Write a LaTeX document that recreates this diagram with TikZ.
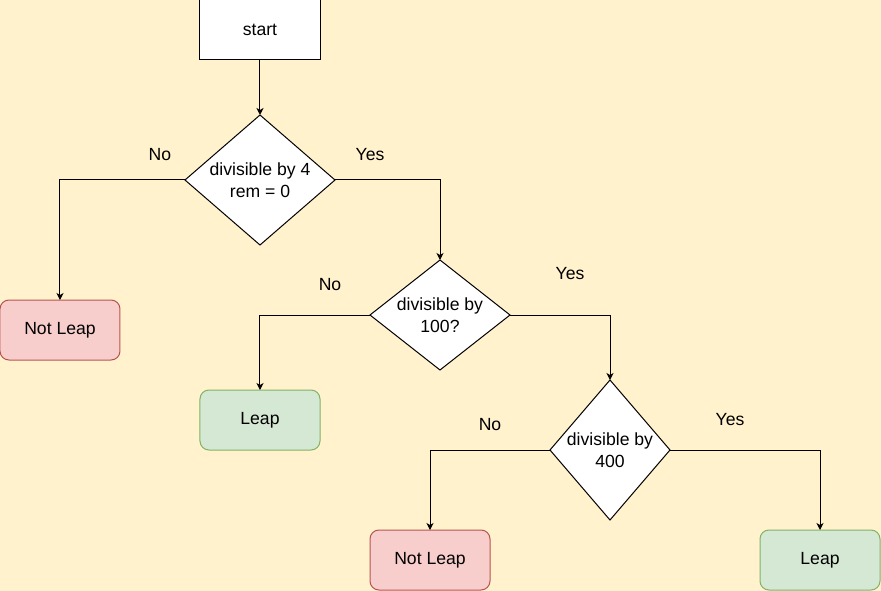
\documentclass[tikz,border=0pt]{standalone}
\usepackage{fontspec}
\setmainfont{Liberation Sans}
\usetikzlibrary{positioning}
\usetikzlibrary{shapes.geometric}
\usetikzlibrary{arrows.meta}
\definecolor{bgyellow}{HTML}{FFF2CC}
\definecolor{noleapfill}{HTML}{F8CECC}
\definecolor{noleapline}{HTML}{B85450}
\definecolor{leapfill}{HTML}{D5E8D4}
\definecolor{leapline}{HTML}{82B366}

\begin{document}
\begin{tikzpicture}[
    font=\fontsize{17.6}{22}\selectfont,
    every node/.style={outer sep=0pt},
    proc/.style={draw, fill=white, line width=1pt, minimum width=120pt, minimum height=60pt, text centered},
    check/.style={draw, fill=white, diamond, inner sep=0pt, line width=1pt, align=center},
    noleap/.style={draw=noleapline, fill=noleapfill, rounded corners=9pt, line width=1pt, minimum width=120pt, minimum height=60pt, text centered},
    leap/.style={draw=leapline, fill=leapfill, rounded corners=9pt, line width=1pt, minimum width=120pt, minimum height=60pt, text centered},
    arr/.style={-{Stealth[length=7pt,width=7pt,inset=2pt]}, line width=1pt},
    lbl/.style={text centered}
  ]
        % background %
        \fill[bgyellow] (-260pt,30pt) rectangle (621pt,-561pt);
        \useasboundingbox (-260pt,30pt) rectangle (621pt,-561pt);

        % nodes %
        \node[proc] (start) {start};
        \node[check, aspect=1.154, minimum width=150pt, minimum height=130pt, below=55pt of start] (d1) {divisible by 4\\rem = 0};
        \node[noleap, below=55pt of d1, xshift=-200pt] (nl1) {Not Leap};
        \node[check, aspect=1.27, minimum width=140pt, minimum height=110pt, below=15pt of d1, xshift=180pt] (d2) {divisible by\\100?};
        \node[leap, below=20pt of d2, xshift=-180pt] (l1) {Leap};
        \node[check, aspect=0.857, minimum width=120pt, minimum height=140pt, below=10pt of d2, xshift=170pt] (d3) {divisible by\\400};
        \node[noleap, below=10pt of d3, xshift=-180pt] (nl2) {Not Leap};
        \node[leap, below=10pt of d3, xshift=210pt] (l2) {Leap};

        % labels %
        \node[lbl] (no1) at ([shift={(-25pt,25pt)}]d1.west) {No};
        \node[lbl] (yes1) at ([shift={(35pt,25pt)}]d1.east) {Yes};
        \node[lbl] (no2) at ([shift={(-40pt,30pt)}]d2.west) {No};
        \node[lbl] (yes2) at ([shift={(60pt,41pt)}]d2.east) {Yes};
        \node[lbl] (no3) at ([shift={(-60pt,25pt)}]d3.west) {No};
        \node[lbl] (yes3) at ([shift={(60pt,30pt)}]d3.east) {Yes};

        % edges %
        \draw[arr] (start) -- (d1);
        \draw[arr] (d1.west) -| (nl1.north);
        \draw[arr] (d1.east) -| (d2.north);
        \draw[arr] (d2.west) -| (l1.north);
        \draw[arr] (d2.east) -| (d3.north);
        \draw[arr] (d3.west) -| (nl2.north);
        \draw[arr] (d3.east) -| (l2.north);
      \end{tikzpicture}
\end{document}
